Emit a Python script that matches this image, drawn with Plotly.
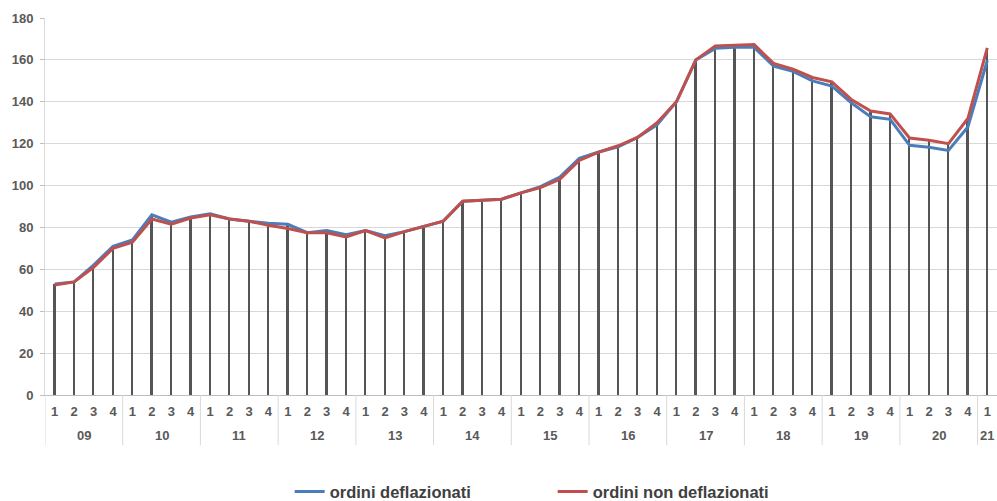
import plotly.graph_objects as go

years = ["09"]*4 + ["10"]*4 + ["11"]*4 + ["12"]*4 + ["13"]*4 + ["14"]*4 + ["15"]*4 + ["16"]*4 + ["17"]*4 + ["18"]*4 + ["19"]*4 + ["20"]*4 + ["21"]
quarters = ["1", "2", "3", "4"]*12 + ["1"]

deflazionati = [53, 54, 62, 71, 74, 86, 82.5, 85, 86.5, 84, 83, 82, 81.5, 77.5, 78.5, 76.5,
                78.5, 76, 78, 80.5, 83, 92.5, 93, 93.5, 96.5, 99.5, 104, 113, 116, 118.5, 123, 129,
                140, 160, 165.5, 166, 166, 157, 154.5, 150, 147.5, 139.5, 132.8, 131.6,
                119.2, 118.3, 116.8, 128, 159.7]
non_deflazionati = [52.5, 54, 61, 70, 73, 84, 81.5, 84.5, 86, 84, 83, 81, 79.5, 77.5, 77.5, 75.5,
                    78.5, 75, 78, 80.5, 83, 92.5, 93, 93.5, 96.5, 99, 103, 112, 116, 119, 123, 130,
                    140, 160, 166.7, 167, 167.3, 158.3, 155.6, 151.6, 149.5, 141.1, 135.6, 134.2,
                    122.7, 121.6, 120, 132, 165.7]
drop = [max(a, b) for a, b in zip(deflazionati, non_deflazionati)]

cats = [f"{y}-{q}" for y, q in zip(years, quarters)]
font_family = "Liberation Sans, Arial, sans-serif"
grey = "#595959"

fig = go.Figure()
fig.add_trace(go.Bar(x=cats, y=drop, width=0.09, marker=dict(color="#555555", line=dict(width=0)),
                     showlegend=False, hoverinfo="skip"))
fig.add_trace(go.Scatter(x=cats, y=deflazionati, mode="lines", name="ordini deflazionati",
                         line=dict(color="#4A7EBB", width=3)))
fig.add_trace(go.Scatter(x=cats, y=non_deflazionati, mode="lines", name="ordini non deflazionati",
                         line=dict(color="#C0504D", width=3)))

# year group labels and dividers
groups = []
for i, y in enumerate(years):
    if not groups or groups[-1][0] != y:
        groups.append([y, i, i])
    else:
        groups[-1][2] = i

for y, s, e in groups:
    fig.add_annotation(x=(s + e) / 2, y=-0.108, xref="x", yref="paper", text=y,
                       showarrow=False, yanchor="middle", xanchor="center",
                       font=dict(size=13, color=grey, weight="bold", family=font_family))
bounds = [g[1] - 0.5 for g in groups]
for b in bounds:
    fig.add_shape(type="line", xref="x", yref="paper", x0=b, x1=b, y0=0, y1=-0.133,
                  line=dict(color="#d9d9d9", width=1))

fig.update_layout(
    width=997, height=501,
    margin=dict(l=45, r=0, t=18, b=106, autoexpand=False),
    paper_bgcolor="white", plot_bgcolor="white",
    font=dict(family=font_family, size=13, color=grey, weight="bold"),
    showlegend=True,
    legend=dict(orientation="h", x=0.257, xanchor="left", y=-0.21, yanchor="top",
                font=dict(size=16.5, color="#404040", weight="bold"), entrywidth=218,
                entrywidthmode="pixels"),
    bargap=0,
)
fig.update_xaxes(type="category", showline=True, linecolor="#bfbfbf", linewidth=1,
                 ticks="", tickvals=cats, ticktext=quarters, ticklabelstandoff=4,
                 range=[-0.5, len(cats) - 0.5], automargin=False,
                 showgrid=False, tickfont=dict(size=13, color=grey, weight="bold"))
fig.update_yaxes(range=[0, 180], dtick=20, showgrid=True, gridcolor="#d9d9d9", gridwidth=1,
                 showline=True, linecolor="#d9d9d9", zeroline=False,
                 ticks="outside", ticklen=4, tickcolor="#bfbfbf", automargin=False,
                 ticklabelstandoff=4,
                 tickfont=dict(size=13, color=grey, weight="bold"))

fig.write_html("out.html", config={"displayModeBar": False},
               post_script="document.body.style.margin='0';document.body.style.overflow='hidden';")
